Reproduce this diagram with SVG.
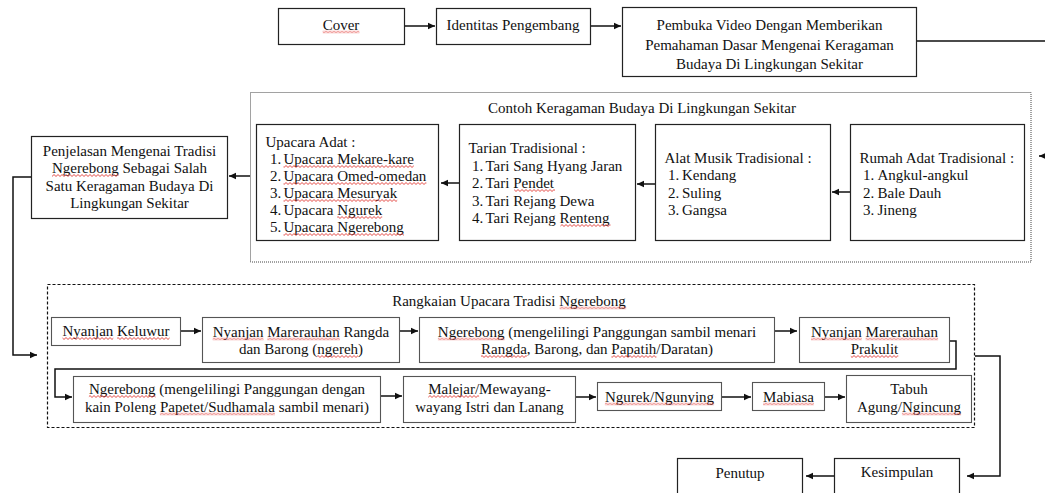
<svg xmlns="http://www.w3.org/2000/svg" width="1045" height="493" viewBox="0 0 1045 493">
<style>
text{font-family:"Liberation Serif","Times New Roman",serif;font-size:15px;fill:#111}
.m{text-anchor:middle}
.box{fill:#fff;stroke:#222;stroke-width:1.2}
.box2{fill:#fff;stroke:#555;stroke-width:1.1}
.dot{fill:none;stroke:#444;stroke-width:1;stroke-dasharray:1 1}
.dash{fill:none;stroke:#111;stroke-width:1.2;stroke-dasharray:3 2}
.c{fill:none;stroke:#111;stroke-width:1.5}
.a{marker-end:url(#ah)}
.wv{fill:url(#wv)}
</style>
<defs>
<marker id="ah" markerWidth="8" markerHeight="8" refX="7" refY="4" orient="auto" markerUnits="userSpaceOnUse"><path d="M0,0.8 L7,4 L0,7.2z" fill="#111"/></marker>
<pattern id="wv" width="4" height="3" patternUnits="userSpaceOnUse"><path d="M-1,1.5 L0,2.5 L2,0.5 L4,2.5 L5,1.5" fill="none" stroke="#e0302a" stroke-width="0.9"/></pattern>
</defs>

<g id="group-contoh">
<rect class="dot" x="250.5" y="92.5" width="780.5" height="169.5"/>
<text class="m" x="642" y="113">Contoh Keragaman Budaya Di Lingkungan Sekitar</text>
</g>
<g id="group-rangkaian">
<rect class="dash" x="47.5" y="284.5" width="927" height="143"/>
<text class="m" x="509" y="305.5">Rangkaian Upacara Tradisi Ngerebong</text>
<rect class="wv" x="559.6" width="66.6" height="3" transform="translate(0,306.5)"/>
</g>

<g id="connectors">
<path class="c a" d="M404,26 H435"/>
<path class="c a" d="M590,26 H621"/>
<path class="c a" d="M916,41 H1052 V156 H1039"/>
<path class="c a" d="M850,192 H832"/>
<path class="c a" d="M655,184 H637"/>
<path class="c a" d="M459,183 H441"/>
<path class="c a" d="M250,176 H229"/>
<path class="c a" d="M31,177 H13 V355 H37"/>
<path class="c a" d="M180,331 H201"/>
<path class="c a" d="M399,331 H418"/>
<path class="c a" d="M774,331 H797"/>
<path class="c a" d="M949,341 H956 V369 H55 V397 H72"/>
<path class="c a" d="M380,396 H402"/>
<path class="c a" d="M575,397 H596"/>
<path class="c a" d="M721,397 H751"/>
<path class="c a" d="M824,397 H845"/>
<path class="c a" d="M975,356 H1000 V476 H967"/>
<path class="c a" d="M834,476 H806"/>
</g>

<g id="node-cover">
<rect class="box" x="278.5" y="8.5" width="126" height="36"/>
<text class="m" x="341" y="29.5">Cover</text>
<rect class="wv" x="322.7" width="36.7" height="3" transform="translate(0,30.5)"/>
</g>
<g id="node-identitas">
<rect class="box" x="436.5" y="8.5" width="154" height="36"/>
<text class="m" x="513" y="29.5">Identitas Pengembang</text>
</g>
<g id="node-pembuka">
<rect class="box" x="622.5" y="7.5" width="294" height="69"/>
<text class="m" x="769.5" y="30">Pembuka Video Dengan Memberikan</text>
<text class="m" x="769.5" y="49.5">Pemahaman Dasar Mengenai Keragaman</text>
<text class="m" x="769.5" y="68.5">Budaya Di Lingkungan Sekitar</text>
</g>

<g id="node-penjelasan">
<rect class="box" x="31.5" y="136.5" width="196" height="82"/>
<text class="m" x="129.5" y="155.5">Penjelasan Mengenai Tradisi</text>
<text class="m" x="129.5" y="173">Ngerebong Sebagai Salah</text>
<text class="m" x="129.5" y="190.5">Satu Keragaman Budaya Di</text>
<text class="m" x="129.5" y="208">Lingkungan Sekitar</text>
<rect class="wv" x="52" width="66.6" height="3" transform="translate(0,174)"/>
</g>

<g id="node-upacara">
<rect class="box" x="256.5" y="124.5" width="182" height="116"/>
<text x="265.5" y="147">Upacara Adat :</text>
<text y="164"><tspan x="270">1.</tspan><tspan x="283.5">Upacara Mekare-kare</tspan></text>
<text y="181"><tspan x="270">2.</tspan><tspan x="283.5">Upacara Omed-omedan</tspan></text>
<text y="198"><tspan x="270">3.</tspan><tspan x="283.5">Upacara Mesuryak</tspan></text>
<text y="215"><tspan x="270">4.</tspan><tspan x="283.5">Upacara Ngurek</tspan></text>
<text y="232"><tspan x="270">5.</tspan><tspan x="283.5">Upacara Ngerebong</tspan></text>
<rect class="wv" x="283.5" width="130.3" height="3" transform="translate(0,165)"/>
<rect class="wv" x="283.5" width="142.9" height="3" transform="translate(0,182)"/>
<rect class="wv" x="283.5" width="113.7" height="3" transform="translate(0,199)"/>
<rect class="wv" x="337.2" width="45" height="3" transform="translate(0,216)"/>
<rect class="wv" x="283.5" width="120.4" height="3" transform="translate(0,233)"/>
</g>

<g id="node-tarian">
<rect class="box" x="459.5" y="124.5" width="176" height="116"/>
<text x="468.5" y="153">Tarian Tradisional :</text>
<text y="170.5"><tspan x="472">1.</tspan><tspan x="485.5">Tari Sang Hyang Jaran</tspan></text>
<text y="188"><tspan x="472">2.</tspan><tspan x="485.5">Tari Pendet</tspan></text>
<text y="205.5"><tspan x="472">3.</tspan><tspan x="485.5">Tari Rejang Dewa</tspan></text>
<text y="223"><tspan x="472">4.</tspan><tspan x="485.5">Tari Rejang Renteng</tspan></text>
<rect class="wv" x="514.2" width="40.8" height="3" transform="translate(0,189)"/>
<rect class="wv" x="560.5" width="50" height="3" transform="translate(0,224)"/>
</g>

<g id="node-alat">
<rect class="box" x="655.5" y="124.5" width="175" height="116"/>
<text x="664.5" y="163">Alat Musik Tradisional :</text>
<text y="180"><tspan x="668">1.</tspan><tspan x="682">Kendang</tspan></text>
<text y="197.5"><tspan x="668">2.</tspan><tspan x="682">Suling</tspan></text>
<text y="215"><tspan x="668">3.</tspan><tspan x="682">Gangsa</tspan></text>
</g>

<g id="node-rumah">
<rect class="box" x="850.5" y="124.5" width="174" height="116"/>
<text x="859.5" y="163">Rumah Adat Tradisional :</text>
<text y="180"><tspan x="863">1.</tspan><tspan x="877.5">Angkul-angkul</tspan></text>
<text y="197.5"><tspan x="863">2.</tspan><tspan x="877.5">Bale Dauh</tspan></text>
<text y="215"><tspan x="863">3.</tspan><tspan x="877.5">Jineng</tspan></text>
</g>

<g id="node-keluwur">
<rect class="box2" x="51.5" y="317.5" width="129" height="28"/>
<text class="m" x="116" y="336">Nyanjan Keluwur</text>
<rect class="wv" x="62.5" width="50.8" height="3" transform="translate(0,337)"/>
<rect class="wv" x="117.1" width="52.5" height="3" transform="translate(0,337)"/>
</g>
<g id="node-rangda">
<rect class="box2" x="202.5" y="317.5" width="197" height="45"/>
<text class="m" x="301" y="336.5">Nyanjan Marerauhan Rangda</text>
<text class="m" x="301" y="354">dan Barong (ngereh)</text>
<rect class="wv" x="212.7" width="50.8" height="3" transform="translate(0,337.5)"/>
<rect class="wv" x="267.3" width="72.5" height="3" transform="translate(0,337.5)"/>
<rect class="wv" x="317.2" width="40.8" height="3" transform="translate(0,355)"/>
</g>
<g id="node-ngerebong1">
<rect class="box2" x="419.5" y="317.5" width="355" height="45"/>
<text class="m" x="597" y="336.5">Ngerebong (mengelilingi Panggungan sambil menari</text>
<text class="m" x="597" y="354">Rangda, Barong, dan Papatih/Daratan)</text>
<rect class="wv" x="437.9" width="66.6" height="3" transform="translate(0,337.5)"/>
<rect class="wv" x="481" width="45.8" height="3" transform="translate(0,355)"/>
<rect class="wv" x="611.4" width="45" height="3" transform="translate(0,355)"/>
</g>
<g id="node-prakulit">
<rect class="box2" x="799.5" y="317.5" width="150" height="45"/>
<text class="m" x="874.5" y="336.5">Nyanjan Marerauhan</text>
<text class="m" x="874.5" y="354">Prakulit</text>
<rect class="wv" x="811" width="50.8" height="3" transform="translate(0,337.5)"/>
<rect class="wv" x="865.6" width="72.5" height="3" transform="translate(0,337.5)"/>
<rect class="wv" x="850.8" width="47.5" height="3" transform="translate(0,355)"/>
</g>
<g id="node-ngerebong2">
<rect class="box2" x="73.5" y="376.5" width="307" height="46"/>
<text class="m" x="227" y="394">Ngerebong (mengelilingi Panggungan dengan</text>
<text class="m" x="227" y="411.5">kain Poleng Papetet/Sudhamala sambil menari)</text>
<rect class="wv" x="88.9" width="66.6" height="3" transform="translate(0,395)"/>
<rect class="wv" x="159.9" width="115" height="3" transform="translate(0,412.5)"/>
</g>
<g id="node-malejar">
<rect class="box2" x="403.5" y="376.5" width="172" height="46"/>
<text class="m" x="489.5" y="394">Malejar/Mewayang-</text>
<text class="m" x="489.5" y="411.5">wayang Istri dan Lanang</text>
<rect class="wv" x="428.3" width="50.8" height="3" transform="translate(0,395)"/>
</g>
<g id="node-ngurek">
<rect class="box2" x="597.5" y="382.5" width="124" height="28"/>
<text class="m" x="659.5" y="401.5">Ngurek/Ngunying</text>
<rect class="wv" x="604.9" width="109.2" height="3" transform="translate(0,402.5)"/>
</g>
<g id="node-mabiasa">
<rect class="box2" x="752.5" y="382.5" width="72" height="28"/>
<text class="m" x="788.5" y="401.5">Mabiasa</text>
<rect class="wv" x="763.1" width="50.8" height="3" transform="translate(0,402.5)"/>
</g>
<g id="node-tabuh">
<rect class="box2" x="846.5" y="375.5" width="125" height="47"/>
<text class="m" x="909" y="394">Tabuh</text>
<text class="m" x="909" y="411.5">Agung/Ngincung</text>
<rect class="wv" x="901.9" width="59.2" height="3" transform="translate(0,412.5)"/>
</g>

<g id="node-kesimpulan">
<rect class="box" x="834.5" y="458.5" width="125" height="40"/>
<text class="m" x="897" y="477">Kesimpulan</text>
</g>
<g id="node-penutup">
<rect class="box" x="677.5" y="458.5" width="125" height="40"/>
<text class="m" x="740" y="477.5">Penutup</text>
</g>
</svg>
